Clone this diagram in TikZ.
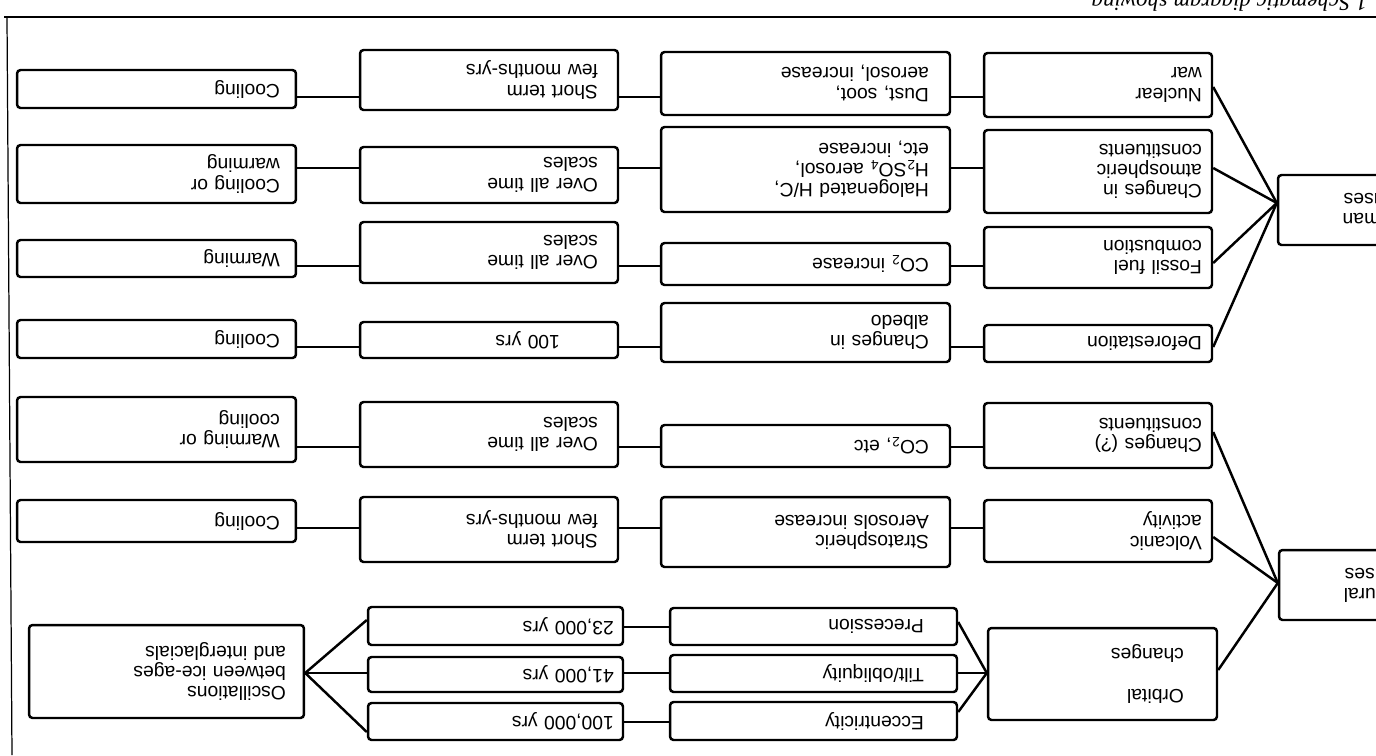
\documentclass[tikz,border=0pt]{standalone}
\usepackage{fontspec}
\setmainfont{Liberation Sans}
\newfontfamily\capfont{Liberation Serif}
\begin{document}
\begin{tikzpicture}[x=0.02cm,y=-0.02cm,
  box/.style={draw, line width=1.4pt, rounded corners=2pt, rotate=180, align=left,
              inner ysep=2pt, font=\fontsize{11}{11.5}\selectfont},
  colA/.style={box, inner xsep=0.32cm, text width=4.94cm},
  colAs/.style={box, inner xsep=0.36cm, text width=4.78cm},
  colB/.style={box, inner xsep=0.40cm, text width=4.36cm},
  colBs/.style={box, inner xsep=0.18cm, text width=4.74cm},
  colC/.style={box, inner xsep=0.42cm, text width=4.94cm},
  colCs/.style={box, inner xsep=0.66cm, text width=4.42cm},
  colD/.style={box, inner xsep=0.20cm, text width=4.16cm},
  colDs/.style={box, inner xsep=0.66cm, text width=3.26cm},
  colE/.style={box, inner xsep=0.30cm, text width=2.24cm},
  link/.style={line width=1.4pt},
  frame/.style={line width=0.7pt}]
\useasboundingbox (0,0) rectangle (1376,755);
\clip (0,0) rectangle (1376,755);

% frame and caption
\draw[frame] (4,17) -- (1376,17);
\draw[frame] (7,17) -- (12,755);
\node[rotate=180, anchor=north west, inner sep=0pt, font=\capfont\itshape\fontsize{13}{15}\selectfont] (cap) at (1368,12) {1 Schematic diagram showing};

% column E (categories)
\node[colE, minimum height=1.40cm] (E1) at (1349,210) {Human\\causes};
\node[colE, minimum height=1.40cm] (E2) at (1350,585) {Natural\\causes};

% column D (causes)
\node[colD, minimum height=1.28cm] (D1) at (1098,85) {Nuclear\\war};
\node[colD, minimum height=1.66cm] (D2) at (1098,171.5) {Changes in\\atmospheric\\constituents};
\node[colD, minimum height=1.22cm] (D3) at (1098,257.5) {Fossil fuel\\combustion};
\node[colD, minimum height=0.74cm] (D4) at (1098,343.5) {Deforestation};
\node[colD, minimum height=1.30cm] (D5) at (1098,435.5) {Changes (?)\\constituents};
\node[colD, minimum height=1.24cm] (D6) at (1098,531) {Volcanic\\activity};
\node[colDs, minimum height=1.84cm] (D7) at (1102.5,674) {Orbital\\[12pt]changes};

% column C (mechanisms)
\node[colC, minimum height=1.26cm] (C1) at (805.5,83.5) {Dust, soot,\\aerosol, increase};
\node[colC, minimum height=1.70cm] (C2) at (805.5,169.5) {Halogenated H/C,\\H\textsubscript{2}SO\textsubscript{4} aerosol,\\etc, increase};
\node[colC, minimum height=0.84cm] (C3) at (805.5,264) {CO\textsubscript{2} increase};
\node[colC, minimum height=1.18cm] (C4) at (805.5,332.5) {Changes in\\albedo};
\node[colC, minimum height=0.84cm] (C5) at (805.5,446) {CO\textsubscript{2}, etc};
\node[colC, minimum height=1.40cm] (C6) at (805.5,532) {Stratospheric\\Aerosols increase};
\node[colCs, minimum height=0.74cm] (C7a) at (813.5,626.5) {Precession};
\node[colCs, minimum height=0.74cm] (C7b) at (813.5,673.5) {Tilt/obliquity};
\node[colCs, minimum height=0.76cm] (C7c) at (813.5,721) {Eccentricity};

% column B (time scales)
\node[colB, minimum height=1.20cm] (B1) at (489,80) {Short term\\few months-yrs};
\node[colB, minimum height=1.12cm] (B2) at (489,175) {Over all time\\scales};
\node[colB, minimum height=1.22cm] (B3) at (489,252.5) {Over all time\\scales};
\node[colB, minimum height=0.72cm] (B4) at (489,340) {\hspace*{0.76cm}100 yrs};
\node[colB, minimum height=1.30cm] (B5) at (489,434.5) {Over all time\\scales};
\node[colB, minimum height=1.30cm] (B6) at (489,529.5) {Short term\\few months-yrs};
\node[colBs, minimum height=0.76cm] (B7a) at (495.5,626) {23,000 yrs};
\node[colBs, minimum height=0.70cm] (B7b) at (495.5,674.5) {41,000 yrs};
\node[colBs, minimum height=0.74cm] (B7c) at (495.5,721.5) {100,000 yrs};

% column A (effects)
\node[colA, minimum height=0.76cm] (A1) at (156.5,89) {Cooling};
\node[colA, minimum height=1.16cm] (A2) at (156.5,174) {Cooling or\\warming};
\node[colA, minimum height=0.74cm] (A3) at (156.5,258.5) {Warming};
\node[colA, minimum height=0.76cm] (A4) at (156.5,339) {Cooling};
\node[colA, minimum height=1.30cm] (A5) at (156.5,429.5) {Warming or\\cooling};
\node[colA, minimum height=0.84cm] (A6) at (156.5,521) {Cooling};
\node[colAs, minimum height=1.86cm] (A7) at (166.5,671.5) {Oscillations\\between ice-ages\\and interglacials};

% row levels
\coordinate (r1) at (0,97);
\coordinate (r2) at (0,168);
\coordinate (r3) at (0,266);
\coordinate (r4) at (0,347);
\coordinate (r5) at (0,447);
\coordinate (r6) at (0,528);
\coordinate (r7a) at (0,627);
\coordinate (r7b) at (0,673);
\coordinate (r7c) at (0,722);

% row connectors
\foreach \r/\a/\b/\c/\d in {r1/A1/B1/C1/D1, r2/A2/B2/C2/D2, r3/A3/B3/C3/D3, r4/A4/B4/C4/D4, r5/A5/B5/C5/D5, r6/A6/B6/C6/D6}{
  \draw[link] (\a.west |- \r) -- (\b.east |- \r);
  \draw[link] (\b.west |- \r) -- (\c.east |- \r);
  \draw[link] (\c.west |- \r) -- (\d.east |- \r);
}
\draw[link] (B7a.west |- r7a) -- (C7a.east |- r7a);
\draw[link] (B7b.west |- r7b) -- (C7b.east |- r7b);
\draw[link] (B7c.west |- r7c) -- (C7c.east |- r7c);

% fans: orbital
\coordinate (fa) at (0,620);
\coordinate (fc) at (0,732);
\coordinate (ga) at (0,622);
\coordinate (gc) at (0,712);
\draw[link] (D7.east |- r7b) -- (C7a.west |- ga);
\draw[link] (D7.east |- r7b) -- (C7b.west |- r7b);
\draw[link] (D7.east |- r7b) -- (C7c.west |- gc);
\draw[link] (A7.west |- r7b) -- (B7a.east |- fa);
\draw[link] (A7.west |- r7b) -- (B7b.east |- r7b);
\draw[link] (A7.west |- r7b) -- (B7c.east |- fc);

% fans: human causes
\coordinate (hc) at (0,203);
\coordinate (h1) at (0,87);
\coordinate (h3) at (0,263);
\draw[link] (E1.east |- hc) -- (D1.west |- h1);
\draw[link] (E1.east |- hc) -- (D2.west |- r2);
\draw[link] (E1.east |- hc) -- (D3.west |- h3);
\draw[link] (E1.east |- hc) -- (D4.west |- r4);

% fans: natural causes
\coordinate (nc) at (0,583);
\coordinate (n5) at (0,432);
\coordinate (n6) at (0,537);
\coordinate (n7) at (0,670);
\draw[link] (E2.east |- nc) -- (D5.west |- n5);
\draw[link] (E2.east |- nc) -- (D6.west |- n6);
\draw[link] (E2.east |- nc) -- (D7.west |- n7);
\end{tikzpicture}
\end{document}
